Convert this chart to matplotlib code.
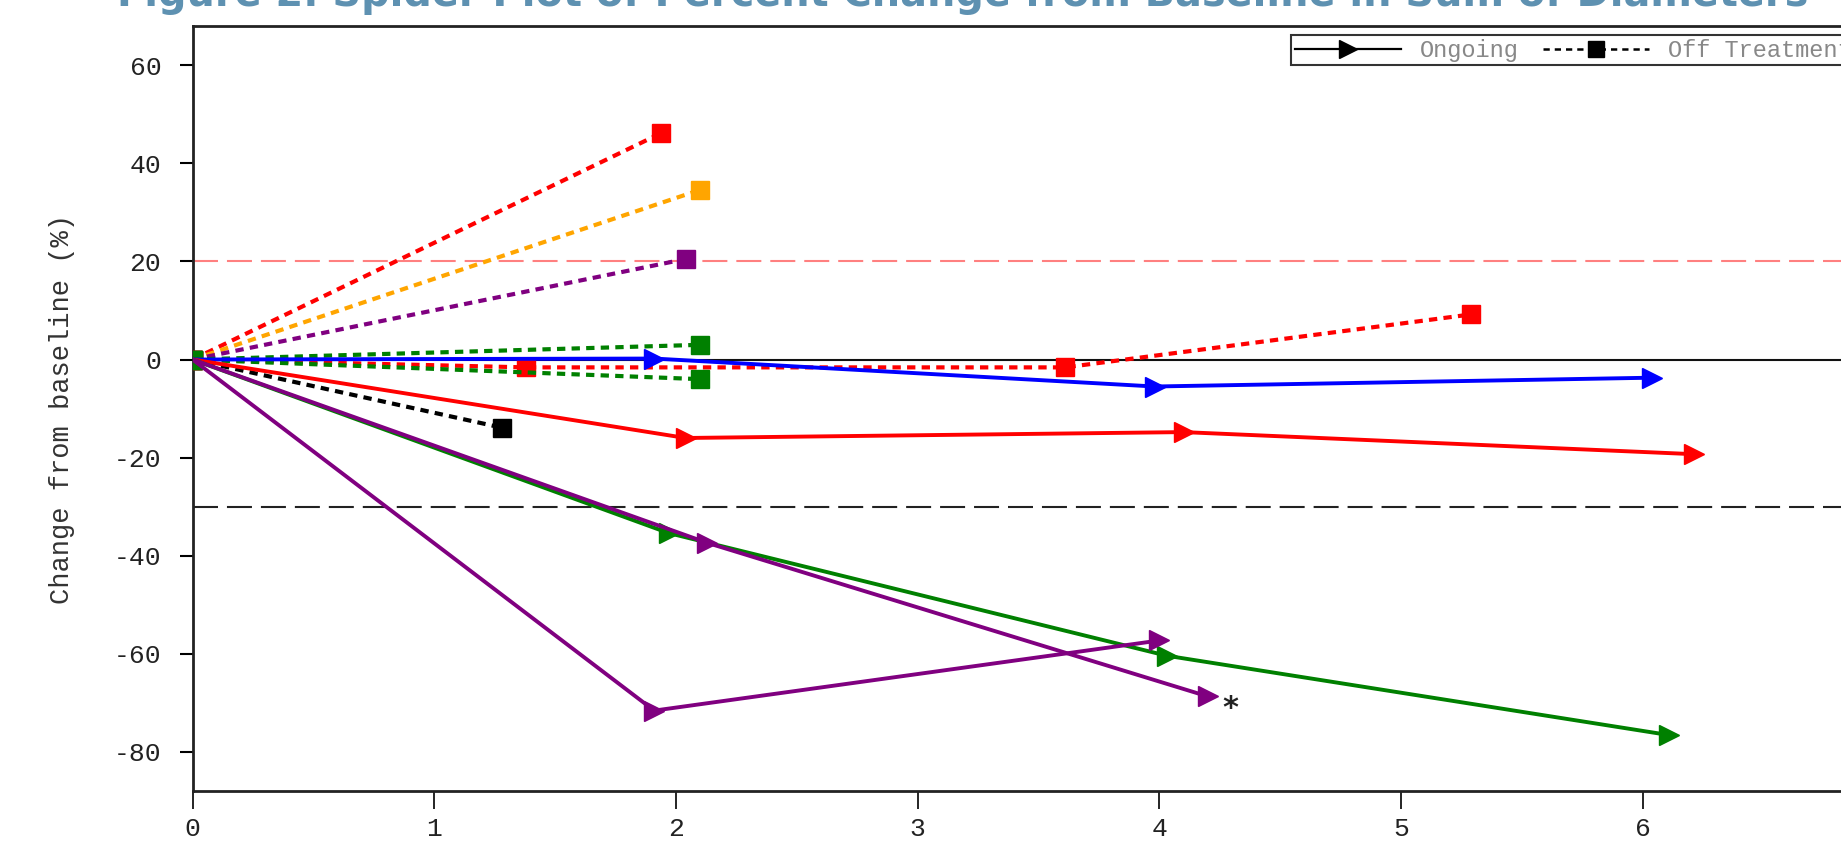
"""
Spider plot: percent change from baseline in sum of diameters, per patient.
Solid lines with arrow heads = still on treatment, dotted lines with squares = off treatment.
"""
import matplotlib
matplotlib.use("Agg")
import matplotlib.pyplot as plt
from matplotlib.lines import Line2D

MONO = "Liberation Mono"
TITLE_BLUE = "#5e91b1"

# months on study / percent change, one entry per patient
ongoing_color = ["blue", "red", "green", "purple", "purple"]
ongoing_x = [
    [0, 1.91, 3.98, 6.04],
    [0, 2.04, 4.10, 6.21],
    [0, 1.97, 4.03, 6.11],
    [0, 2.13, 4.20],
    [0, 1.91, 4.00],
]
ongoing_y = [
    [0, 0.2, -5.5, -3.7],
    [0, -16.0, -14.8, -19.3],
    [0, -35.4, -60.4, -76.6],
    [0, -37.4, -68.7],
    [0, -71.6, -57.3],
]

off_color = ["red", "orange", "purple", "red", "black", "green", "green"]
off_x = [
    [0, 1.94],
    [0, 2.10],
    [0, 2.04],
    [0, 1.38, 3.61, 5.29],
    [0, 1.28],
    [0, 2.10],
    [0, 2.10],
]
off_y = [
    [0, 46.2],
    [0, 34.6],
    [0, 20.5],
    [0, -1.6, -1.6, 9.2],
    [0, -13.9],
    [0, -4.0],
    [0, 3.0],
]

x_ticks = [0, 1, 2, 3, 4, 5, 6]
y_ticks = [-80, -60, -40, -20, 0, 20, 40, 60]

DOTTED = (0, (2.0, 1.5))

fig = plt.figure(figsize=(18.41, 8.48), dpi=100)
# the plotting area runs past the right edge of the canvas on purpose
ax = fig.add_axes([0.1046, 0.0672, 0.919, 0.902])
ax.set_xlim(0, 7)
ax.set_ylim(-88, 68)

# reference lines: progression (+20%), response (-30%), baseline
ax.axhline(20, color="#ff8080", lw=1.5, ls=(0, (12, 4.3)), zorder=1)
ax.axhline(-30, color="#222222", lw=1.5, ls=(0, (12, 4.3)), zorder=1)
ax.axhline(0, color="#111111", lw=1.5, zorder=1)

for xs, ys, c in zip(off_x, off_y, off_color):
    ax.plot(xs, ys, color=c, lw=3.0, ls=DOTTED, marker="s",
            markersize=12.3, zorder=3)

for xs, ys, c in zip(ongoing_x, ongoing_y, ongoing_color):
    ax.plot(xs, ys, color=c, lw=2.8, marker=">", markersize=14,
            markevery=slice(1, None), zorder=4)

# patient flagged with asterisk
ax.text(ongoing_x[3][-1] + 0.06, ongoing_y[3][-1] - 2.5, "*", fontsize=22,
        fontweight="bold", ha="left", va="center", color="#222222")

ax.set_xticks(x_ticks)
ax.set_yticks(y_ticks)
ax.set_xticklabels([str(t) for t in x_ticks], fontfamily=MONO, fontsize=19, color="#222222")
ax.set_yticklabels([str(t) for t in y_ticks], fontfamily=MONO, fontsize=19, color="#222222")
ax.tick_params(axis="y", length=9.5, width=1.5, pad=13)
ax.tick_params(axis="x", length=13, width=1.2, pad=6)
for s in ax.spines.values():
    s.set_linewidth(2)
    s.set_color("#222222")

ax.set_ylabel("Change from baseline (%)", fontfamily=MONO, fontsize=19.5,
              color="#333333", labelpad=28)

handles = [
    Line2D([], [], color="black", lw=1.6, marker=">", markersize=13),
    Line2D([], [], color="black", lw=1.8, ls=(0, (2.5, 2)), marker="s", markersize=11),
]
leg = ax.legend(handles, ["Ongoing", "Off Treatment"], ncol=2, loc="upper left",
                bbox_to_anchor=(0.6495, 0.988), borderaxespad=0, frameon=True,
                fancybox=False, handlelength=4.5, columnspacing=1.0,
                handletextpad=0.8, borderpad=0.15,
                prop={"family": MONO, "size": 17})
leg.get_frame().set_edgecolor("black")
leg.get_frame().set_linewidth(1.5)
for t in leg.get_texts():
    t.set_color("#888888")

fig.text(117 / 1841, 1 - 6 / 848,
         "Figure 2. Spider Plot of Percent Change from Baseline in Sum of Diameters",
         ha="left", va="baseline", fontsize=28.7, fontweight="bold", color=TITLE_BLUE)

fig.savefig("out.png", dpi=100)
